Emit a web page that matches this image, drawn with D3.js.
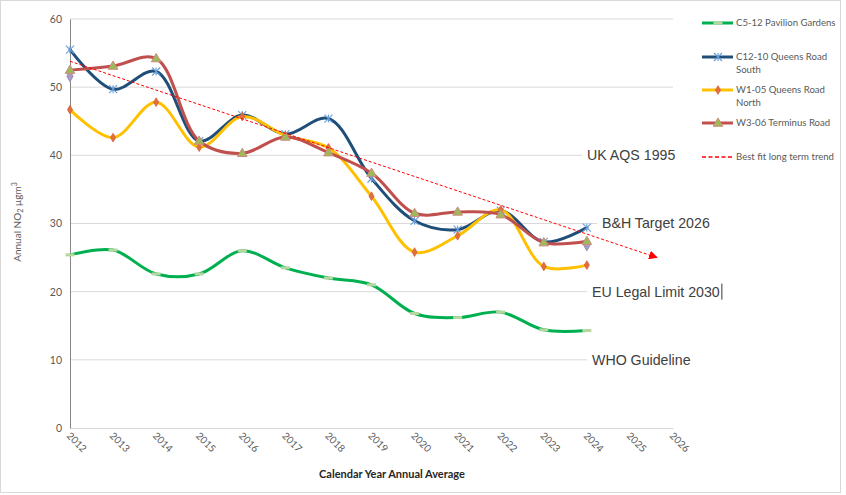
<!DOCTYPE html>
<html>
<head>
<meta charset="utf-8">
<script src="https://cdn.jsdelivr.net/npm/d3@7"></script>
<style>
  body { margin: 0; background: #fff; }
  svg { display: block; }
</style>
</head>
<body>
<svg id="chart"></svg>
<script>
const chartSize = { width: 846, height: 495 };
const margin = { left: 70, right: 173, top: 19, bottom: 67 };

const width = chartSize.width - margin.left - margin.right;
const height = chartSize.height - margin.top - margin.bottom;

const years = [2012, 2013, 2014, 2015, 2016, 2017, 2018, 2019, 2020, 2021, 2022, 2023, 2024];
const axisYears = [2012, 2013, 2014, 2015, 2016, 2017, 2018, 2019, 2020, 2021, 2022, 2023, 2024, 2025, 2026];
const yTicks = [0, 10, 20, 30, 40, 50, 60];

const pavilionGardens = [25.4, 26.1, 22.6, 22.6, 26.0, 23.5, 22.0, 21.0, 16.8, 16.2, 17.0, 14.4, 14.3];
const queensRoadSouth = [55.5, 49.7, 52.3, 42.1, 45.9, 43.1, 45.4, 36.6, 30.4, 29.1, 31.9, 27.3, 29.4];
const queensRoadNorth = [46.7, 42.6, 47.8, 41.2, 45.7, 42.9, 41.1, 34.0, 25.8, 28.2, 32.0, 23.7, 23.9];
const terminusRoad = [52.5, 53.1, 54.2, 42.1, 40.3, 42.7, 40.4, 37.4, 31.5, 31.7, 31.3, 27.2, 27.4];
const otherSite = [51.6, null, null, null, null, null, null, null, null, null, null, null, 26.8];

const trendYears = [2012, 2025.63];
const trendValues = [53.8, 25.0];

const referenceLabels = ["UK AQS 1995", "B&H Target 2026", "EU Legal Limit 2030", "WHO Guideline"];
const referenceValues = [40, 30, 20, 10];
const referenceLeft = [582, 597, 587, 587];

const series = [
  { name: "C5-12 Pavilion Gardens", lines: ["C5-12 Pavilion Gardens"], values: pavilionGardens, color: "#00B050", marker: "dash" },
  { name: "C12-10 Queens Road South", lines: ["C12-10 Queens Road", "South"], values: queensRoadSouth, color: "#1F4E79", marker: "star" },
  { name: "W1-05 Queens Road North", lines: ["W1-05 Queens Road", "North"], values: queensRoadNorth, color: "#FFC000", marker: "diamond" },
  { name: "W3-06 Terminus Road", lines: ["W3-06 Terminus Road"], values: terminusRoad, color: "#C0504D", marker: "triangle" }
];

const svg = d3.select("#chart")
  .attr("width", chartSize.width)
  .attr("height", chartSize.height);

svg.append("rect")
  .attr("x", 0.5).attr("y", 0.5)
  .attr("width", 840).attr("height", 492)
  .attr("fill", "#fff")
  .attr("stroke", "#d9d9d9");

const defs = svg.append("defs");
defs.append("marker")
  .attr("id", "arrow")
  .attr("viewBox", "0 0 10 10")
  .attr("refX", 9).attr("refY", 5)
  .attr("markerWidth", 9).attr("markerHeight", 9)
  .attr("markerUnits", "userSpaceOnUse")
  .attr("orient", "auto")
  .append("path")
  .attr("d", "M0,0L10,5L0,10Z")
  .attr("fill", "#FF0000");

const x = d3.scaleLinear().domain([2012, 2026]).range([0, width]);
const y = d3.scaleLinear().domain([0, 60]).range([height, 0]);

const g = svg.append("g").attr("transform", `translate(${margin.left},${margin.top})`);

// gridlines
g.append("g")
  .selectAll("line")
  .data(yTicks.filter(d => d > 0))
  .join("line")
  .attr("x1", 0).attr("x2", width)
  .attr("y1", d => y(d)).attr("y2", d => y(d))
  .attr("stroke", "#d9d9d9")
  .attr("stroke-width", 1);

// x axis
const xAxis = g.append("g")
  .attr("transform", `translate(0,${height})`)
  .call(d3.axisBottom(x).tickValues(axisYears).tickFormat(d3.format("d")).tickSize(0));
xAxis.select(".domain").attr("stroke", "#d9d9d9");
xAxis.selectAll("text")
  .attr("font-family", "Lato, 'Open Sans', sans-serif")
  .attr("font-size", 10)
  .attr("fill", "#595959")
  .attr("text-anchor", "start")
  .attr("transform", "translate(-2,6) rotate(45)")
  .attr("dy", "0.35em")
  .attr("y", 0);

// y axis
const yAxis = g.append("g")
  .call(d3.axisLeft(y).tickValues(yTicks).tickSize(0).tickPadding(8));
yAxis.select(".domain").attr("stroke", "#868686");
yAxis.selectAll("text")
  .attr("font-family", "Lato, 'Open Sans', sans-serif")
  .attr("font-size", 10.5)
  .attr("fill", "#595959");

// reference labels with white boxes over the gridlines
const refs = g.append("g");
referenceLabels.forEach((label, i) => {
  const lx = referenceLeft[i] - margin.left;
  const ly = y(referenceValues[i]);
  const txt = refs.append("text")
    .attr("x", lx + 5)
    .attr("y", ly)
    .attr("dy", "0.35em")
    .attr("font-family", "'Liberation Sans', Arial, sans-serif")
    .attr("font-size", 14.2)
    .attr("fill", "#404040")
    .text(label);
  const bb = txt.node().getBBox();
  refs.insert("rect", "text")
    .attr("x", lx).attr("y", bb.y - 1)
    .attr("width", Math.max(bb.width + 10, width - lx + 2))
    .attr("height", bb.height + 2)
    .attr("fill", "#fff");
  if (i === 2) {
    refs.append("line")
      .attr("x1", bb.x + bb.width + 2).attr("x2", bb.x + bb.width + 2)
      .attr("y1", bb.y).attr("y2", bb.y + bb.height)
      .attr("stroke", "#000").attr("stroke-width", 0.8);
  }
});

const line = d3.line()
  .defined(d => d[1] != null)
  .x(d => x(d[0]))
  .y(d => y(d[1]))
  .curve(d3.curveCatmullRom.alpha(0.5));

const drawMarker = (sel, type, cx, cy) => {
  if (type === "dash") {
    sel.append("rect")
      .attr("x", cx - 4.5).attr("y", cy - 1.5)
      .attr("width", 9).attr("height", 3)
      .attr("fill", "#B5D7A0");
  } else if (type === "star") {
    const r = 4;
    sel.append("path")
      .attr("d", `M${cx - r},${cy - r}L${cx + r},${cy + r}M${cx - r},${cy + r}L${cx + r},${cy - r}M${cx},${cy - r}L${cx},${cy + r}`)
      .attr("stroke", "#6A9FD8")
      .attr("stroke-width", 1.1)
      .attr("fill", "none");
  } else if (type === "diamond") {
    sel.append("path")
      .attr("transform", `translate(${cx},${cy})`)
      .attr("d", d3.symbol(d3.symbolDiamond, 22)())
      .attr("fill", "#E0703C")
      .attr("stroke", "#D9603B")
      .attr("stroke-width", 0.8);
  } else if (type === "triangle") {
    sel.append("path")
      .attr("transform", `translate(${cx},${cy + 0.5})`)
      .attr("d", d3.symbol(d3.symbolTriangle, 40)())
      .attr("fill", "#9BBB59")
      .attr("stroke", "#D08A7E")
      .attr("stroke-width", 1);
  } else if (type === "purple") {
    sel.append("path")
      .attr("transform", `translate(${cx},${cy})`)
      .attr("d", d3.symbol(d3.symbolDiamond, 34)())
      .attr("fill", "#A99BC4")
      .attr("stroke", "#9B8DBB");
  }
};

// other site markers sit behind the rest
const otherG = g.append("g");
otherSite.forEach((v, i) => {
  if (v != null) drawMarker(otherG, "purple", x(years[i]), y(v));
});

series.forEach(s => {
  const pts = years.map((yr, i) => [yr, s.values[i]]);
  const sg = g.append("g");
  sg.append("path")
    .datum(pts)
    .attr("d", line)
    .attr("fill", "none")
    .attr("stroke", s.color)
    .attr("stroke-width", 3)
    .attr("stroke-linecap", "round");
  pts.forEach(p => drawMarker(sg, s.marker, x(p[0]), y(p[1])));
});

// trend
g.append("line")
  .attr("x1", x(trendYears[0])).attr("y1", y(trendValues[0]))
  .attr("x2", x(trendYears[1])).attr("y2", y(trendValues[1]))
  .attr("stroke", "#FF0000")
  .attr("stroke-width", 1)
  .attr("stroke-dasharray", "3,2")
  .attr("marker-end", "url(#arrow)");

// axis titles
svg.append("text")
  .attr("transform", "translate(21,222) rotate(-90)")
  .attr("text-anchor", "middle")
  .attr("font-family", "Lato, 'Open Sans', sans-serif")
  .attr("font-size", 10)
  .attr("fill", "#595959")
  .call(t => {
    t.append("tspan").text("Annual NO");
    t.append("tspan").attr("font-size", 7).attr("dy", 2).text("2");
    t.append("tspan").attr("dy", -2).text(" µgm");
    t.append("tspan").attr("font-size", 7).attr("dy", -4).text("3");
  });

svg.append("text")
  .attr("x", 392).attr("y", 478)
  .attr("text-anchor", "middle")
  .attr("font-family", "Lato, 'Open Sans', sans-serif")
  .attr("font-size", 11)
  .attr("font-weight", "bold")
  .attr("fill", "#262626")
  .text("Calendar Year Annual Average");

// legend
const legendY = [23, 57, 90, 123];
const legend = svg.append("g");
series.forEach((s, i) => {
  const ly = legendY[i];
  legend.append("line")
    .attr("x1", 702).attr("x2", 733)
    .attr("y1", ly).attr("y2", ly)
    .attr("stroke", s.color).attr("stroke-width", 3);
  drawMarker(legend, s.marker, 718, ly);
  s.lines.forEach((txt, j) => {
    legend.append("text")
      .attr("x", 736).attr("y", ly + j * 13)
      .attr("dy", "0.35em")
      .attr("font-family", "Lato, 'Open Sans', sans-serif")
      .attr("font-size", 9.6)
      .attr("fill", "#595959")
      .text(txt);
  });
});
legend.append("line")
  .attr("x1", 702).attr("x2", 733)
  .attr("y1", 157).attr("y2", 157)
  .attr("stroke", "#FF0000").attr("stroke-width", 1.5)
  .attr("stroke-dasharray", "4,2.5");
legend.append("text")
  .attr("x", 736).attr("y", 157)
  .attr("dy", "0.35em")
  .attr("font-family", "Lato, 'Open Sans', sans-serif")
  .attr("font-size", 9.6)
  .attr("fill", "#595959")
  .text("Best fit long term trend");
</script>
</body>
</html>
